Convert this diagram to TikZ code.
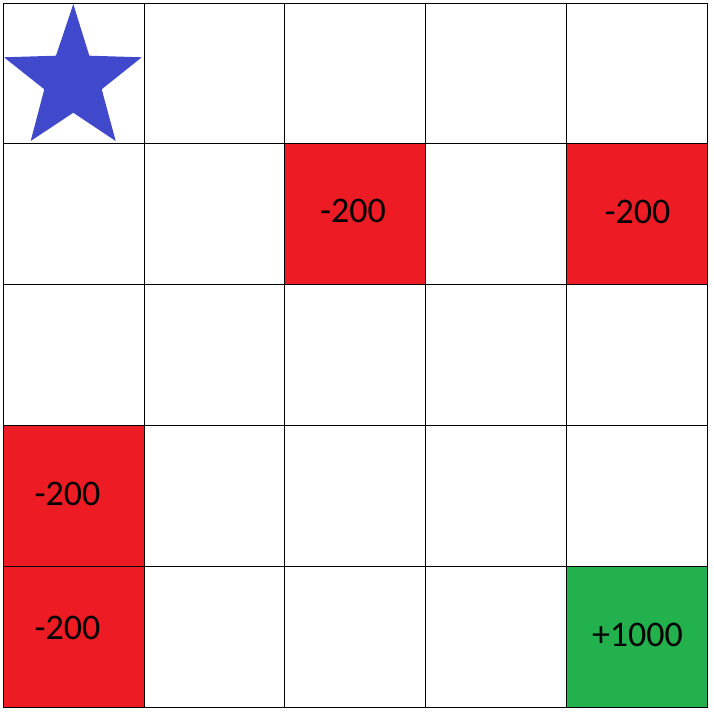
\documentclass[tikz,border=0pt]{standalone}
\usepackage{fontspec}
\setmainfont{Carlito}
\definecolor{cellred}{RGB}{237,28,36}
\definecolor{cellgreen}{RGB}{34,177,76}
\definecolor{starblue}{RGB}{64,72,204}
\begin{document}
\begin{tikzpicture}[x=1pt,y=-1pt,
  cell/.style={draw=black, line width=0.9pt, minimum size=140.8pt, inner sep=0pt, anchor=north west},
  fillcell/.style={fill=#1, minimum size=140.8pt, inner sep=0pt, anchor=north west},
  lbl/.style={font=\fontsize{36}{40}\selectfont, inner sep=0pt}]
\useasboundingbox (0,0) rectangle (714,714);
% coloured cells
\node[fillcell=cellred] (f12) at ({2.7+140.8*2},{2.7+140.8*1}) {};
\node[fillcell=cellred] (f14) at ({2.7+140.8*4},{2.7+140.8*1}) {};
\node[fillcell=cellred] (f30) at ({2.7+140.8*0},{2.7+140.8*3}) {};
\node[fillcell=cellred] (f40) at ({2.7+140.8*0},{2.7+140.8*4}) {};
\node[fillcell=cellgreen] (f44) at ({2.7+140.8*4},{2.7+140.8*4}) {};
% grid
\foreach \r in {0,...,4} {
  \foreach \c in {0,...,4} {
    \node[cell] (c\r\c) at ({2.7+140.8*\c},{2.7+140.8*\r}) {};
  }
}
% star
\fill[starblue] (73.3,4) -- (89.3,55.7) -- (141.7,57.3) -- (101.7,89.3) -- (115.7,141)
  -- (73.3,112.7) -- (30.7,141) -- (44.3,89.3) -- (4,57.3) -- (56,55.7) -- cycle;
% labels
\node[lbl] (t12) at (353,210.5) {-200};
\node[lbl] (t14) at (637.5,212) {-200};
\node[lbl] (t30) at (67.5,493.8) {-200};
\node[lbl] (t40) at (67.5,628) {-200};
\node[lbl] (t44) at (637.5,634.5) {+1000};
\end{tikzpicture}
\end{document}
